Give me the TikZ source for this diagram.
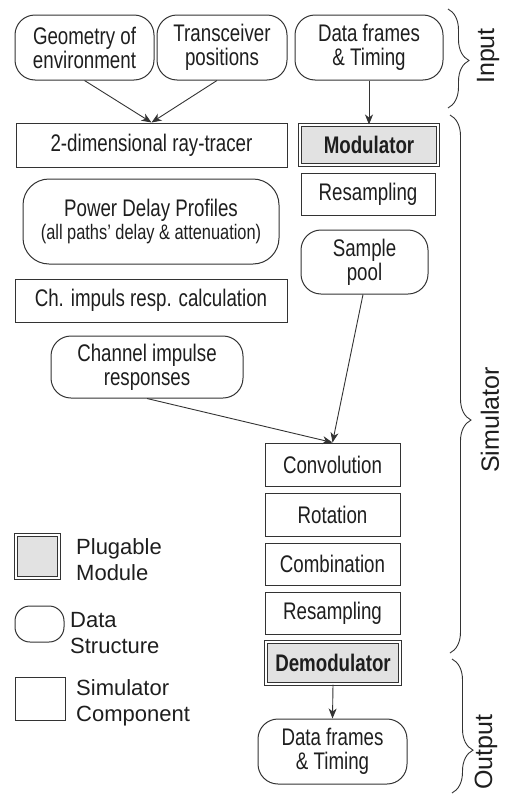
\documentclass[tikz,border=0pt]{standalone}
\usepackage{fontspec}
\setmainfont{Liberation Sans}
\newfontfamily\narrowfont[FakeStretch=0.78]{Liberation Sans}
\usetikzlibrary{arrows.meta,decorations.pathreplacing}
\definecolor{linecol}{HTML}{333333}
\definecolor{textcol}{HTML}{1E1E1E}
\definecolor{plugfill}{HTML}{E2E2E2}
\tikzset{
  comp/.style={draw=linecol, line width=1pt, inner sep=0pt, text=textcol, align=center,
    font=\narrowfont\fontsize{24}{24}\selectfont},
  datastruct/.style={comp, rounded corners=20pt},
  plugmod/.style={comp, fill=plugfill, double=white, double distance=1.6pt, font=\narrowfont\bfseries\fontsize{24}{24}\selectfont},
  arr/.style={draw=linecol, line width=0.9pt, -{Stealth[length=10pt,width=8pt,inset=3pt]}},
  legtext/.style={anchor=west, inner sep=0pt, text=textcol, align=left, font=\fontsize{22}{26}\selectfont},
  sidelabel/.style={rotate=90, inner sep=0pt, text=textcol, font=\fontsize{25}{28}\selectfont},
  bracedeco/.style={draw=linecol, line width=0.9pt, decorate, decoration={brace, amplitude=21pt, aspect=#1}}
}
\begin{document}
\begin{tikzpicture}[x=1pt, y=-1pt]
\useasboundingbox (0,0) rectangle (508,798);
% inputs
\node[datastruct, minimum width=139pt, minimum height=65pt] (geo) at (84.5,47.5) {Geometry of\\environment};
\node[datastruct, minimum width=130pt, minimum height=65pt] (trx) at (222,47.5) {Transceiver\\positions};
\node[datastruct, minimum width=148pt, minimum height=65pt] (dfin) at (369,47.5) {Data frames\\\& Timing};
% left column
\node[comp, minimum width=271pt, minimum height=44pt] (ray) at (151.5,145) {2-dimensional ray-tracer};
\node[datastruct, rounded corners=26pt, minimum width=256pt, minimum height=85pt] (pdp) at (151,221.5)
  {Power Delay Profiles\\[-1pt]{\fontsize{21}{22}\selectfont (all paths’ delay \& attenuation)}};
\node[comp, minimum width=272pt, minimum height=43pt] (chcalc) at (151,300.5) {Ch. impuls resp. calculation};
\node[datastruct, minimum width=192pt, minimum height=62pt] (cir) at (147,367) {Channel impulse\\responses};
% right column
\node[plugmod, minimum width=138pt, minimum height=40pt] (mod) at (369,145) {Modulator};
\node[comp, minimum width=134pt, minimum height=42pt] (res1) at (368,194) {Resampling};
\node[datastruct, minimum width=127pt, minimum height=64pt] (pool) at (364.5,262) {Sample\\pool};
\node[comp, minimum width=135pt, minimum height=43pt] (conv) at (332.5,464.5) {Convolution};
\node[comp, minimum width=135pt, minimum height=43pt] (rot) at (332.5,514.5) {Rotation};
\node[comp, minimum width=135pt, minimum height=42pt] (comb) at (332.5,564) {Combination};
\node[comp, minimum width=135pt, minimum height=42pt] (res2) at (332.5,613) {Resampling};
\node[plugmod, minimum width=134pt, minimum height=42pt] (demod) at (333,663) {Demodulator};
\node[datastruct, minimum width=149pt, minimum height=65pt] (dfout) at (332.5,751.5) {Data frames\\\& Timing};
% connectors
\draw[arr] (geo.south) -- (ray.north);
\draw[arr] ([xshift=-5pt]trx.south) -- (ray.north);
\draw[arr] (dfin.south) -- (mod.north);
\draw[arr] ([xshift=-1.5pt]pool.south) -- (conv.north);
\draw[arr] (cir.south) -- (conv.north);
\draw[arr] (demod.south) -- (dfout.north);
% legend
\node[plugmod, minimum width=43pt, minimum height=43pt] (lgplug) at (37.5,556.5) {};
\node[legtext] (lgplugt) at (76,560) {Plugable\\Module};
\node[datastruct, rounded corners=15pt, minimum width=49pt, minimum height=36pt] (lgdata) at (39.5,624) {};
\node[legtext] (lgdatat) at (70,633) {Data\\Structure};
\node[comp, minimum width=50pt, minimum height=43pt] (lgcomp) at (40,698.5) {};
\node[legtext] (lgcompt) at (76,703) {Simulator\\Component};
% braces
\coordinate (inTop) at (448,9);
\coordinate (inBot) at (448,108);
\coordinate (simTop) at (450,115);
\coordinate (simBot) at (450,653);
\coordinate (outTop) at (452,659);
\coordinate (outBot) at (452,793);
\draw[bracedeco=0.52] (inTop) -- (inBot);
\draw[bracedeco=0.567] (simTop) -- (simBot);
\draw[bracedeco=0.68] (outTop) -- (outBot);
\node[sidelabel] (lblin) at (488,56) {Input};
\node[sidelabel] (lblsim) at (490,420) {Simulator};
\node[sidelabel] (lblout) at (486,752) {Output};
\end{tikzpicture}
\end{document}
